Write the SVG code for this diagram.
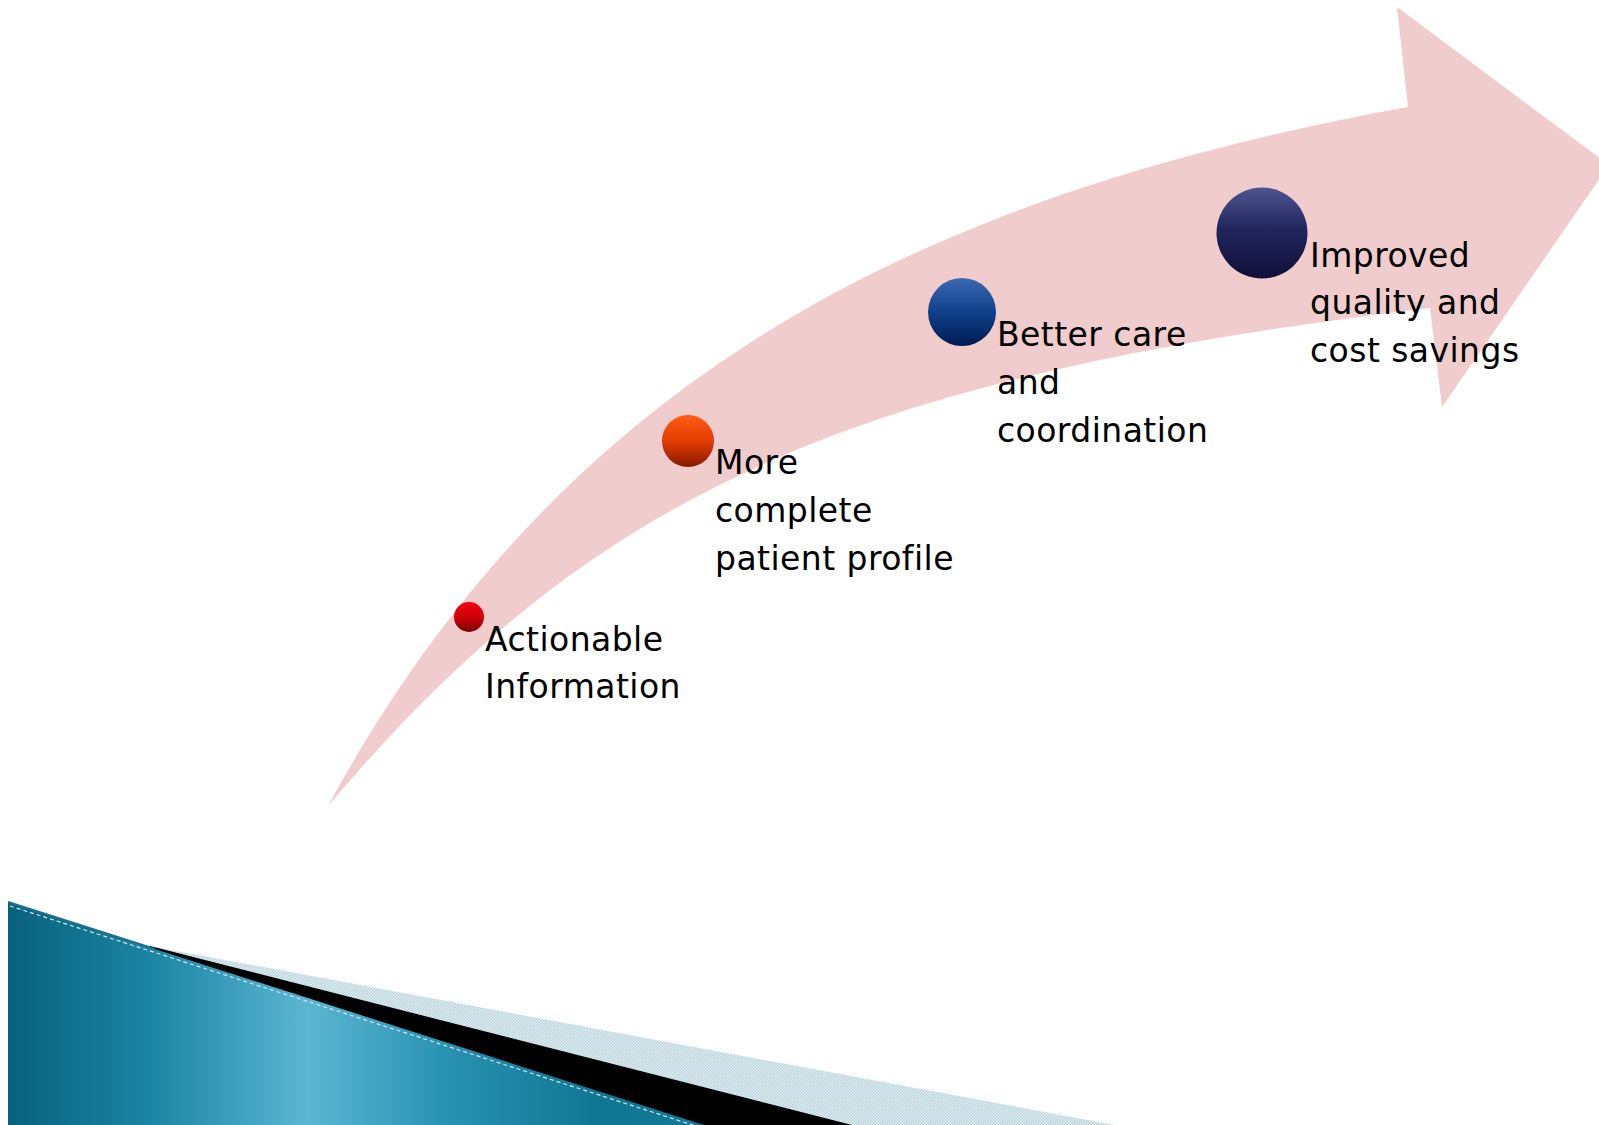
<svg xmlns="http://www.w3.org/2000/svg" width="1599" height="1125" viewBox="0 0 1599 1125">
<style>
.lbl{font-family:"DejaVu Sans","Liberation Sans",sans-serif;font-size:33px;letter-spacing:0.45px;fill:#000}
</style>
<defs>
<linearGradient id="gRed" x1="0" y1="0" x2="0" y2="1"><stop offset="0" stop-color="#f2000e"/><stop offset="0.5" stop-color="#d00008"/><stop offset="1" stop-color="#7a0000"/></linearGradient>
<linearGradient id="gOrange" x1="0" y1="0" x2="0" y2="1"><stop offset="0" stop-color="#ff5c12"/><stop offset="0.5" stop-color="#e43c02"/><stop offset="1" stop-color="#851a00"/></linearGradient>
<linearGradient id="gBlue" x1="0" y1="0" x2="0" y2="1"><stop offset="0" stop-color="#3b6ab2"/><stop offset="0.5" stop-color="#10408a"/><stop offset="1" stop-color="#001a52"/></linearGradient>
<linearGradient id="gNavy" x1="0" y1="0" x2="0" y2="1"><stop offset="0" stop-color="#4e5590"/><stop offset="0.45" stop-color="#22265e"/><stop offset="1" stop-color="#0f0f38"/></linearGradient>
<linearGradient id="gTeal" gradientUnits="userSpaceOnUse" x1="8" y1="0" x2="704" y2="0"><stop offset="0" stop-color="#08617c"/><stop offset="0.2" stop-color="#1a84a2"/><stop offset="0.43" stop-color="#5bb6d2"/><stop offset="0.62" stop-color="#2a93b3"/><stop offset="0.85" stop-color="#0f7692"/><stop offset="1" stop-color="#137b98"/></linearGradient>
<pattern id="hatch" width="3" height="3" patternUnits="userSpaceOnUse"><rect width="3" height="3" fill="#e2eef2"/><rect width="1.5" height="1.5" fill="#b9d3dc"/><rect x="1.5" y="1.5" width="1.5" height="1.5" fill="#b9d3dc"/></pattern>
</defs>

<g id="arrow">
<path d="M328,806 C567,366 936,193 1408,107 L1397,7 L1609,165 L1442,407 L1430,308 C834,379 586,501 328,806 Z" fill="#f0cccc"/>
</g>

<g id="decoration">
<polygon points="150,946 1115,1125 8,1125" fill="url(#hatch)"/>
<polygon points="150,946 852,1125 8,1125" fill="#000"/>
<polygon points="8,902 704,1125 8,1125" fill="url(#gTeal)"/>
<line x1="8" y1="902" x2="155" y2="949" stroke="#1b6f88" stroke-width="2"/>
<line x1="10" y1="906" x2="702" y2="1128" stroke="#cde8f0" stroke-width="1.2" stroke-dasharray="4 3"/>
</g>

<g id="node1">
<circle cx="469" cy="617" r="15" fill="url(#gRed)"/>
<text class="lbl" x="485" y="651">Actionable</text>
<text class="lbl" x="485" y="698">Information</text>
</g>

<g id="node2">
<circle cx="688" cy="441" r="26" fill="url(#gOrange)"/>
<text class="lbl" x="715" y="474">More</text>
<text class="lbl" x="715" y="522">complete</text>
<text class="lbl" x="715" y="570">patient profile</text>
</g>

<g id="node3">
<circle cx="962" cy="312" r="34" fill="url(#gBlue)"/>
<text class="lbl" x="997" y="346">Better care</text>
<text class="lbl" x="997" y="394">and</text>
<text class="lbl" x="997" y="442">coordination</text>
</g>

<g id="node4">
<circle cx="1262" cy="233" r="45.5" fill="url(#gNavy)"/>
<text class="lbl" x="1310" y="267">Improved</text>
<text class="lbl" x="1310" y="314">quality and</text>
<text class="lbl" x="1310" y="362">cost savings</text>
</g>

<g id="connectors"></g>
</svg>
